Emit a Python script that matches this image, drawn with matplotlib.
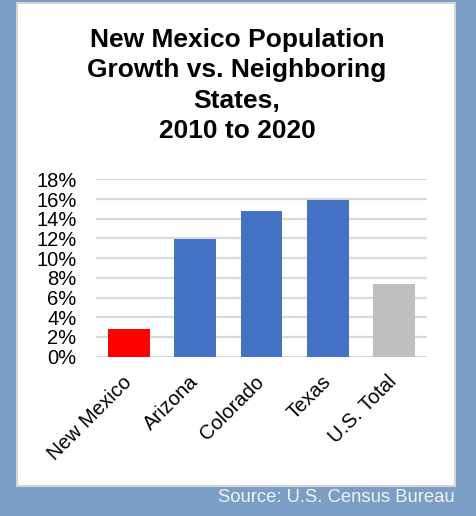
import matplotlib
matplotlib.use('Agg')
import matplotlib.pyplot as plt
from matplotlib.patches import Rectangle
from matplotlib.ticker import MultipleLocator, PercentFormatter

plt.rcParams['font.family'] = ['Liberation Sans', 'DejaVu Sans']

# growth 2010-2020, percent
states = ['New Mexico', 'Arizona', 'Colorado', 'Texas', 'U.S. Total']
growth = [2.8, 11.9, 14.8, 15.9, 7.4]
bar_colors = ['#ff0000', '#4472c4', '#4472c4', '#4472c4', '#bfbfbf']

title = 'New Mexico Population\nGrowth vs. Neighboring\nStates,\n2010 to 2020'
source = 'Source: U.S. Census Bureau'

W, H = 477, 516
fig = plt.figure(figsize=(W / 100, H / 100), dpi=100)
fig.patch.set_facecolor('#7a9ec6')

# white card with a thin grey edge
fig.patches.append(Rectangle((17 / W, (H - 486) / H), 438 / W, 483 / H,
                             transform=fig.transFigure, facecolor='white',
                             edgecolor='#d4d4d4', linewidth=1.5, zorder=-5))

ax = fig.add_axes([96 / W, (H - 356.7) / H, 331 / W, 177.4 / H])
ax.set_zorder(2)
ax.set_facecolor('white')
ax.bar(range(len(states)), growth, width=0.63, color=bar_colors, zorder=3)

ax.set_xlim(-0.5, len(states) - 0.5)
ax.set_ylim(0, 18)
ax.yaxis.set_major_locator(MultipleLocator(2))
ax.yaxis.set_major_formatter(PercentFormatter(decimals=0))
ax.grid(axis='y', color='#d9d9d9', linewidth=1.6, zorder=0)
ax.set_axisbelow(True)
for s in ax.spines.values():
    s.set_visible(False)

ax.set_xticks(range(len(states)))
ax.set_xticklabels(states, rotation=45, ha='right', va='center',
                   rotation_mode='anchor')
ax.tick_params(axis='both', length=0, labelsize=14.5, colors='black')
ax.tick_params(axis='y', pad=14)
ax.tick_params(axis='x', pad=16)

fig.text(237 / W, 1 - 28 / H, title, ha='center', va='top', fontsize=19,
         fontweight='bold', linespacing=1.34)
fig.text(455 / W, (H - 498) / H, source, ha='right', va='center',
         fontsize=13.3, color='#f2f2f2')

fig.savefig('out.png', dpi=100, facecolor=fig.get_facecolor())
